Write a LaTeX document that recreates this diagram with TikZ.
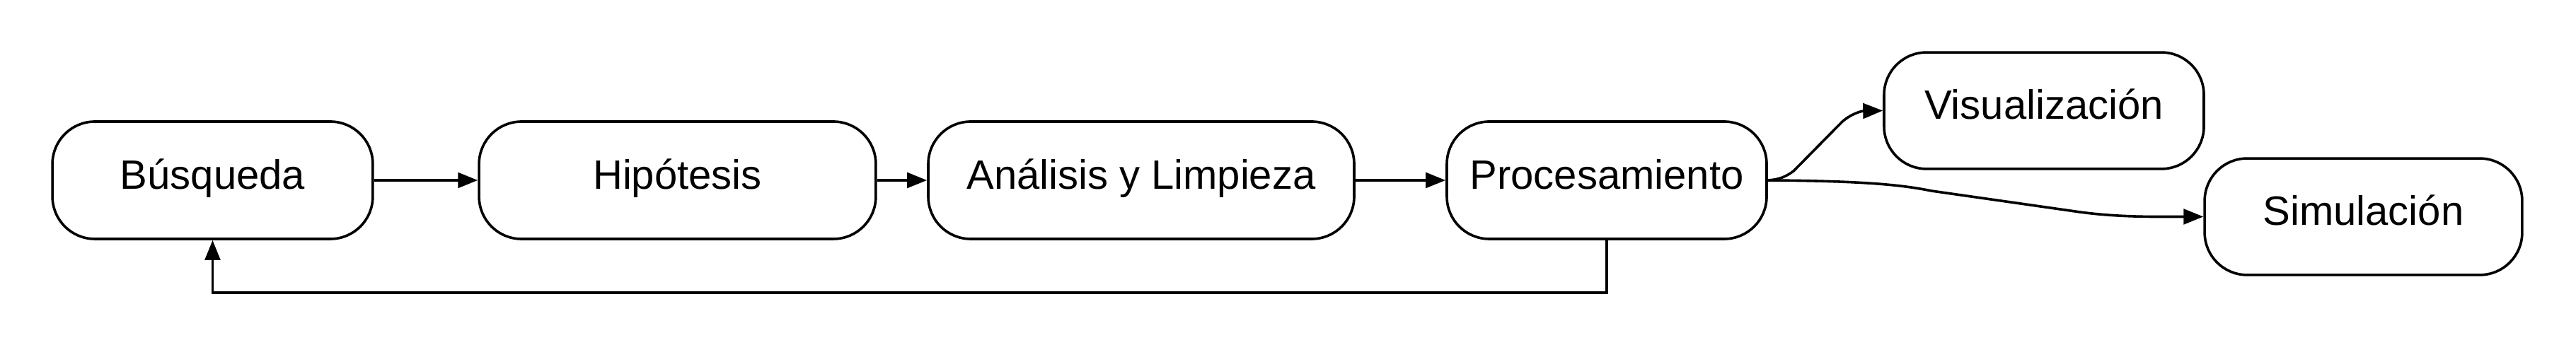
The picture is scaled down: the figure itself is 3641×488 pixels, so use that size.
\documentclass[tikz,border=0pt]{standalone}
\usepackage{fontspec}
\setmainfont{Liberation Sans}
\usetikzlibrary{arrows.meta}
\begin{document}
\begin{tikzpicture}[x=0.25pt,y=-0.25pt,
  box/.style={draw=black, line width=0.9pt, rounded corners=15pt, inner sep=0pt,
    minimum height=41.5pt, text height=10.2pt, text depth=4pt,
    font=\fontsize{14.5pt}{17pt}\selectfont},
  arr/.style={draw=black, line width=0.9pt, -{Triangle[length=7pt,width=5.4pt]}}]
\useasboundingbox (0,0) rectangle (3641,488);
\node[box, minimum width=113.2pt] (bus) at (300.5,255) {Búsqueda};
\node[box, minimum width=140.2pt] (hip) at (957.5,255) {Hipótesis};
\node[box, minimum width=150.5pt] (ana) at (1613,255) {Análisis y Limpieza};
\node[box, minimum width=113pt] (pro) at (2271,255) {Procesamiento};
\node[box, minimum width=113pt, minimum height=41.2pt] (vis) at (2889,156.5) {Visualización};
\node[box, minimum width=112.2pt, minimum height=41.2pt] (sim) at (3340.5,306.5) {Simulación};
\draw[arr] (bus.east) -- (hip.west);
\draw[arr] (hip.east) -- (ana.west);
\draw[arr] (ana.east) -- (pro.west);
\draw[arr] (pro.east) .. controls (2515,254) and (2524,250) .. (2535,242)
  -- (2604,172) .. controls (2618,160) and (2632,157) .. (vis.west);
\draw[arr] (pro.east) .. controls (2640,256) and (2690,262) .. (2730,270)
  -- (2940,300) .. controls (2970,304) and (3000,306) .. (3040,306.5) -- (sim.west);
\draw[arr] (pro.south) -- ++(0,74) -| (bus.south);
\end{tikzpicture}
\end{document}
